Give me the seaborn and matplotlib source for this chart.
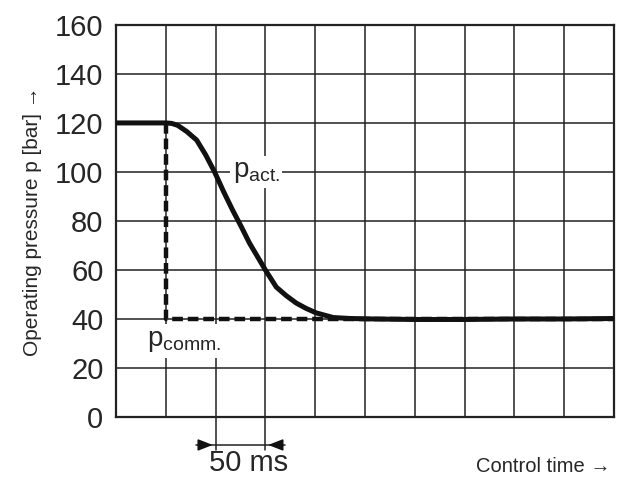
import pandas as pd
import matplotlib.pyplot as plt
import seaborn as sns

# actual pressure curve (time in ms, pressure in bar)
t_act = [0, 50, 56, 62, 71, 81, 90, 99, 108, 117, 126, 134, 142, 150, 161, 171, 181, 191, 201, 218, 235, 260, 300, 350, 400, 450, 500]
p_act = [120, 120, 119.8, 119, 116.5, 113, 107, 100, 92, 84.5, 77.5, 71, 65.5, 60, 53, 49.5, 46.5, 44.3, 42.5, 40.6, 40.2, 40, 39.8, 39.8, 40, 40, 40.2]

# commanded pressure step
t_comm = [50, 50, 500]
p_comm = [120, 40, 40]

y_ticks = [0, 20, 40, 60, 80, 100, 120, 140, 160]
x_grid = list(range(0, 501, 50))

sns.set_style("white")
plt.rcParams['font.family'] = ['Liberation Sans', 'DejaVu Sans']
plt.rcParams['mathtext.fontset'] = 'custom'
plt.rcParams['mathtext.rm'] = 'Liberation Sans'

fig = plt.figure(figsize=(6.17, 4.79), dpi=100)
ax = fig.add_axes([0.188, 0.1294, 0.807, 0.8186])

df_act = pd.DataFrame({"t": t_act, "p": p_act})
df_comm = pd.DataFrame({"t": t_comm, "p": p_comm})

sns.lineplot(data=df_comm, x="t", y="p", estimator=None, sort=False, ax=ax,
             color="#111111", lw=3.2, linestyle=(0, (2.4, 1.1)), zorder=3)
sns.lineplot(data=df_act, x="t", y="p", estimator=None, sort=False, ax=ax,
             color="#111111", lw=3.6, zorder=4)

ax.set_xlim(0, 500)
ax.set_ylim(0, 160)
ax.set_xticks(x_grid)
ax.set_xticklabels([])
ax.set_yticks(y_ticks)
ax.set_yticklabels([str(v) for v in y_ticks], fontsize=21)
ax.tick_params(length=0, pad=9)
ax.grid(True, color="#222222", lw=1.1)
for s in ax.spines.values():
    s.set_color("#222222")
    s.set_linewidth(1.6)
    s.set_visible(True)

ax.set_xlabel("")
ax.set_ylabel("Operating pressure p [bar] \u2192", fontsize=15, labelpad=9)

# curve labels
ax.text(117, 100, r"$\mathregular{p_{act.}}$", fontsize=20, ha="left", va="center",
        zorder=5, bbox=dict(facecolor="white", edgecolor="none", pad=2))
ax.text(31, 31, r"$\mathregular{p_{comm.}}$", fontsize=20, ha="left", va="center",
        zorder=5, bbox=dict(facecolor="white", edgecolor="none", pad=3))

# 50 ms dimension marker below the axis
for xv in [100, 150]:
    ax.plot([xv, xv], [0, -13.5], color="#222222", lw=1.1, clip_on=False)
ax.plot([80, 170], [-11.4, -11.4], color="#222222", lw=1.1, clip_on=False)
ax.annotate("", xy=(100, -11.4), xytext=(80, -11.4), annotation_clip=False,
            arrowprops=dict(arrowstyle="-|>,head_length=0.9,head_width=0.35", color="#111111", lw=1.1))
ax.annotate("", xy=(150, -11.4), xytext=(170, -11.4), annotation_clip=False,
            arrowprops=dict(arrowstyle="-|>,head_length=0.9,head_width=0.35", color="#111111", lw=1.1))
ax.text(133, -18.8, "50 ms", fontsize=21, ha="center", va="center", clip_on=False)
ax.text(497, -20.3, "Control time \u2192", fontsize=14.5, ha="right", va="center", clip_on=False)

fig.savefig("out.png", dpi=100)
